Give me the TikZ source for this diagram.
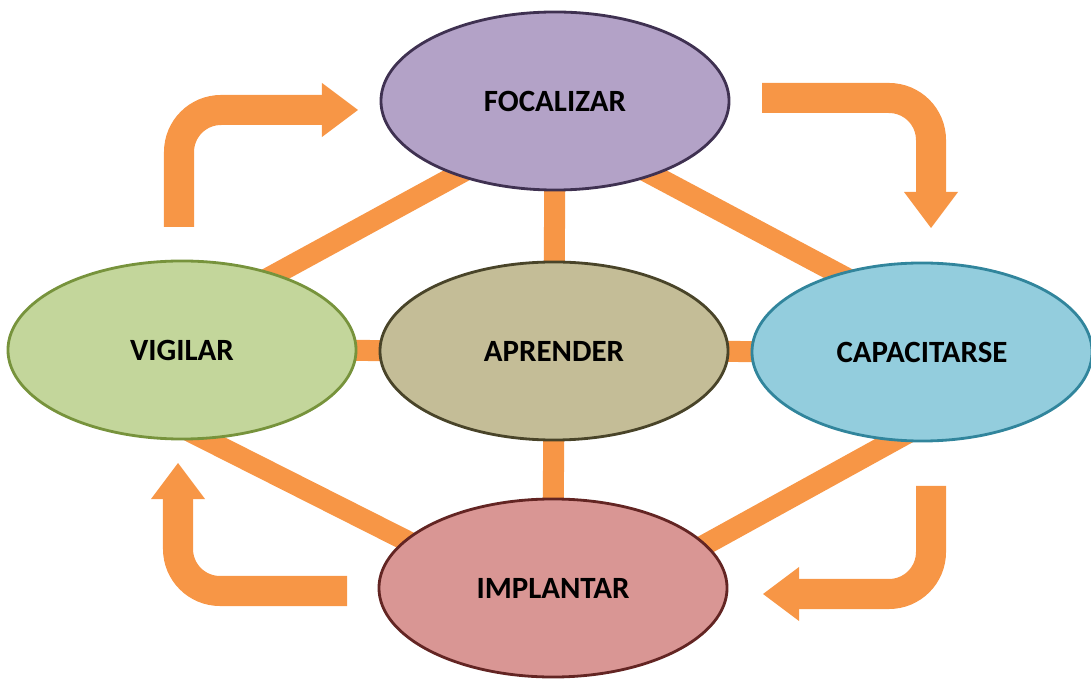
\documentclass[tikz,border=0pt]{standalone}
\usepackage{fontspec}
\setmainfont{Carlito}
\usepackage{xcolor}
\usepackage{tikz}
\usetikzlibrary{shapes.geometric, arrows.meta, backgrounds}

\definecolor{barorange}{HTML}{F79646}
\definecolor{focfill}{HTML}{B3A2C7}
\definecolor{focline}{HTML}{3F3151}
\definecolor{aprfill}{HTML}{C4BD97}
\definecolor{aprline}{HTML}{494429}
\definecolor{vigfill}{HTML}{C3D69B}
\definecolor{vigline}{HTML}{77933C}
\definecolor{capfill}{HTML}{93CDDD}
\definecolor{capline}{HTML}{31859C}
\definecolor{impfill}{HTML}{D99694}
\definecolor{impline}{HTML}{632523}

\tikzset{
  stage/.style={ellipse, draw, line width=2pt, inner sep=0pt,
    minimum width=8.7cm, minimum height=4.45cm,
    font=\fontsize{22}{26}\selectfont\bfseries},
  bar/.style={line width=0.525cm, barorange, shorten <=-20pt, shorten >=-20pt},
  turn/.style={line width=0.75cm, barorange, rounded corners=1.05cm,
    -{Triangle[length=0.9cm, width=1.35cm, line width=0pt]}}
}

\begin{document}
\begin{tikzpicture}[x=0.025cm, y=0.025cm]
            \useasboundingbox (0,0) rectangle (1091,678);

            % Stages
            \node[stage, fill=focfill, draw=focline] (foc) at (555,577) {FOCALIZAR};
            \node[stage, fill=aprfill, draw=aprline] (apr) at (554,327) {APRENDER};
            \node[stage, fill=vigfill, draw=vigline] (vig) at (182,328) {VIGILAR};
            \node[stage, fill=capfill, draw=capline, minimum width=8.5cm] (cap) at (922,326) {CAPACITARSE};
            \node[stage, fill=impfill, draw=impline] (imp) at (553,90) {IMPLANTAR};

            % Bars behind the stages
            \begin{scope}[on background layer]
                \draw[bar] (foc) -- (apr);
                \draw[bar] (apr) -- (imp);
                \draw[bar] (vig) -- (apr);
                \draw[bar] (apr) -- (cap);
                \draw[bar] (vig.39) -- (foc.217);
                \draw[bar] (foc.323) -- (cap.137);
                \draw[bar] (vig.285) -- (imp.162);
                \draw[bar] (cap.252) -- (imp.16);
            \end{scope}

            % Cycle arrows
            \coordinate (tl-from) at (179,451);
            \coordinate (tl-to) at (358,568);
            \coordinate (tr-from) at (762,580);
            \coordinate (tr-to) at (931,450);
            \coordinate (br-from) at (931,192);
            \coordinate (br-to) at (763,84);
            \coordinate (bl-from) at (347,87);
            \coordinate (bl-to) at (178,215);

            \draw[turn] (tl-from) |- (tl-to);
            \draw[turn] (tr-from) -| (tr-to);
            \draw[turn] (br-from) |- (br-to);
            \draw[turn] (bl-from) -| (bl-to);
        \end{tikzpicture}
\end{document}
